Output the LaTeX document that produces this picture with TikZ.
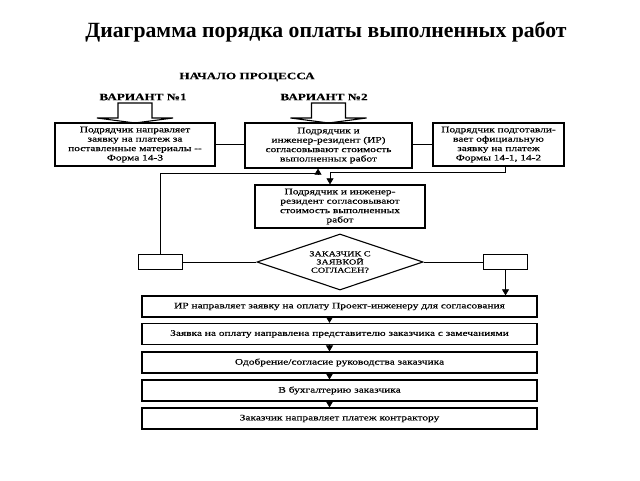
\documentclass[tikz,border=0pt]{standalone}
\usepackage{fontspec}
\setmainfont{Liberation Serif}
\newfontfamily\scanfont[FakeStretch=1.34,FakeBold=0.3]{Liberation Serif}
\usetikzlibrary{shapes.geometric,arrows.meta,calc}

\begin{document}
\begin{tikzpicture}[x=1pt,y=-1pt,
    blk/.style={draw, line width=1.3pt, align=center, inner sep=0pt, minimum height=43pt,
      font=\scanfont\fontsize{8.5}{9.4}\selectfont},
    rowbox/.style={draw, line width=1.3pt, minimum width=395pt, minimum height=21pt,
      inner sep=0pt, font=\scanfont\fontsize{8.5}{9}\selectfont},
    tinybox/.style={draw, line width=1.3pt, minimum width=44pt, minimum height=15pt, inner sep=0pt},
    hdr/.style={font=\scanfont\bfseries\fontsize{9.8}{12}\selectfont},
    lnk/.style={line width=0.7pt},
    arr/.style={lnk, -{Triangle[width=7pt,length=6pt]}}]
  \useasboundingbox (0,0) rectangle (640,480);

  \node[font=\bfseries\fontsize{21.7}{24}\selectfont] (title) at (326,32) {Диаграмма порядка оплаты выполненных работ};
  \node[hdr] (start) at (247,77) {НАЧАЛО ПРОЦЕССА};
  \node[hdr] (var1) at (143,97) {ВАРИАНТ №1};
  \node[hdr] (var2) at (324,97) {ВАРИАНТ №2};

  \foreach \c in {135,328.5} {
    \draw[line width=1.1pt] (\c-17,103) -- (\c+17,103) -- (\c+17,118) -- (\c+38,118)
      -- (\c,123) -- (\c-38,118) -- (\c-17,118) -- cycle;
  }

  \node[blk, minimum width=160pt] (opt1) at (135,144.5) {Подрядчик направляет\\заявку на платеж за\\поставленные материалы --\\Форма 14-3};
  \node[blk, minimum width=167pt, minimum height=45pt] (opt2) at (328.5,145.5) {Подрядчик и\\инженер-резидент (ИР)\\согласовывают стоимость\\выполненных работ};
  \node[blk, minimum width=131pt] (opt3) at (498.5,144.5) {Подрядчик подготавли-\\вает официальную\\заявку на платеж\\Формы 14-1, 14-2};
  \node[blk, minimum width=170pt] (agree) at (340,206.5) {Подрядчик и инженер-\\резидент согласовывают\\стоимость выполненных\\работ};
  \node[diamond, aspect=3, draw, line width=1.1pt, minimum width=166pt, minimum height=56pt, inner sep=0pt,
    align=center, font=\scanfont\fontsize{7.6}{8.2}\selectfont] (ask) at (340,262) {ЗАКАЗЧИК С\\ЗАЯВКОЙ\\СОГЛАСЕН?};
  \node[tinybox] (no) at (160.5,262) {};
  \node[tinybox] (yes) at (505.5,262) {};

  \node[rowbox] (s1) at (339.5,306.5) {ИР направляет заявку на оплату Проект-инженеру для согласования};
  \node[rowbox] (s2) at (339.5,334) {Заявка на оплату направлена представителю заказчика с замечаниями};
  \node[rowbox] (s3) at (339.5,362.5) {Одобрение/согласие руководства заказчика};
  \node[rowbox] (s4) at (339.5,390.5) {В бухгалтерию заказчика};
  \node[rowbox] (s5) at (339.5,418.5) {Заказчик направляет платеж контрактору};

  \draw[lnk] (opt1.east) -- (opt2.west |- opt1.east);
  \draw[lnk] (opt2.east |- opt3.west) -- (opt3.west);
  \draw[arr] (no.north) |- ($(opt2.south)+(-10.5,5)$) -- ($(opt2.south)+(-10.5,0)$);
  \draw[arr] ($(opt3.south)+(6.5,0)$) |- ($(agree.north)+(-10,-12)$) -- ($(agree.north)+(-10,0)$);
  \draw[lnk] (no.east) -- (ask.west);
  \draw[lnk] (ask.east) -- (yes.west);
  \draw[arr] (yes.south) -- (yes.south |- s1.north);
  \foreach \a/\b in {s1/s2,s2/s3,s3/s4,s4/s5}
    \draw[arr] ($(\a.south)+(-10,0)$) -- ($(\b.north)+(-10,0)$);
\end{tikzpicture}
\end{document}
